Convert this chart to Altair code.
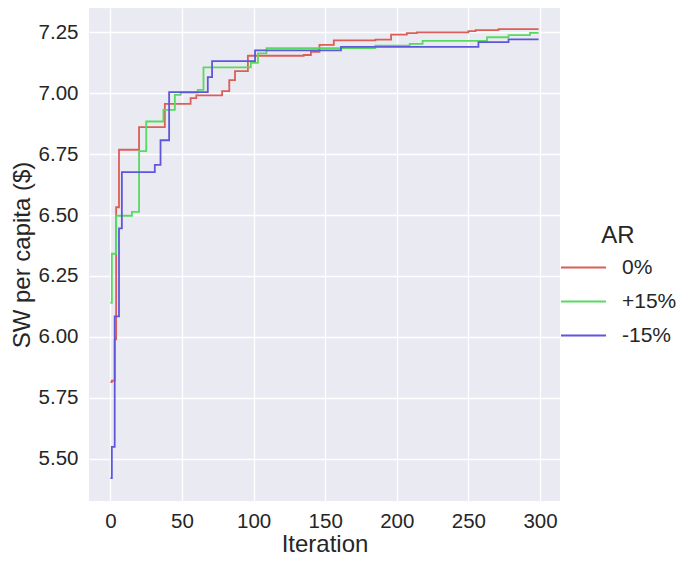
import altair as alt
import pandas as pd

# Change points (iteration, value), drawn as steps
red_iter = [0, 1, 3, 4, 6, 20, 38, 56, 60, 78, 83, 87, 96, 135, 140, 146, 156, 185, 196, 207, 214, 250, 255, 271, 299]
red_val = [5.814, 5.82, 5.99, 6.532, 6.768, 6.861, 6.956, 6.98, 6.991, 7.009, 7.054, 7.091, 7.154, 7.157, 7.17,
           7.199, 7.217, 7.22, 7.241, 7.247, 7.25, 7.255, 7.259, 7.263, 7.263]

green_iter = [0, 1, 4, 15, 20, 25, 37, 45, 49, 61, 65, 98, 103, 109, 185, 209, 218, 263, 278, 293, 299]
green_val = [6.14, 6.341, 6.497, 6.513, 6.762, 6.884, 6.932, 6.993, 7.003, 7.014, 7.106, 7.125, 7.164, 7.185,
             7.195, 7.203, 7.215, 7.23, 7.239, 7.248, 7.248]

blue_iter = [0, 1, 3, 6, 8, 31, 35, 41, 68, 71, 101, 161, 257, 278, 299]
blue_val = [5.42, 5.548, 6.084, 6.445, 6.676, 6.706, 6.807, 7.005, 7.066, 7.132, 7.176, 7.19, 7.21, 7.221, 7.221]

series_names = ["0%", "+15%", "-15%"]
series_colors = ["#db5f57", "#57db5f", "#5f57db"]

x_ticks = [0, 50, 100, 150, 200, 250, 300]
y_ticks = [5.50, 5.75, 6.00, 6.25, 6.50, 6.75, 7.00, 7.25]

rows = []
for name, xs, ys in zip(series_names, [red_iter, green_iter, blue_iter], [red_val, green_val, blue_val]):
    for i, (x, y) in enumerate(zip(xs, ys)):
        rows.append({"Iteration": x, "SW": y, "AR": name, "order": i})
df = pd.DataFrame(rows)

FONT = "Liberation Sans"
TXT = "#262626"

chart = alt.Chart(df).mark_line(interpolate="step-after", strokeWidth=1.8).encode(
    x=alt.X("Iteration:Q",
            scale=alt.Scale(domain=[-14.95, 313.95], nice=False, zero=False),
            axis=alt.Axis(values=x_ticks, title="Iteration", labelPadding=10, titlePadding=1)),
    y=alt.Y("SW:Q",
            scale=alt.Scale(domain=[5.326, 7.35], nice=False, zero=False),
            axis=alt.Axis(values=y_ticks, format=".2f", title="SW per capita ($)",
                          labelPadding=11, titlePadding=4)),
    color=alt.Color("AR:N",
                    scale=alt.Scale(domain=series_names, range=series_colors),
                    legend=alt.Legend(orient="none", legendX=471, legendY=216, padding=0,
                                      symbolType="stroke", symbolSize=2025, symbolStrokeWidth=2,
                                      labelOffset=15, rowPadding=-4.5, titlePadding=-4,
                                      titleAnchor="middle", titleFontSize=24, labelFontSize=21,
                                      titleFontWeight="normal", titleFont=FONT, labelFont=FONT,
                                      titleColor=TXT, labelColor=TXT)),
    order="order:Q",
).properties(
    width=471, height=493,
    autosize=alt.AutoSizeParams(type="none"),
    padding={"left": 81, "top": 0, "right": 130, "bottom": 56},
).configure_view(
    fill="#eaeaf2", stroke=None
).configure_axis(
    domain=False, ticks=False, tickSize=0, grid=True, gridColor="white", gridWidth=1.3,
    labelFont=FONT, labelFontSize=20.5, labelColor=TXT,
    titleFont=FONT, titleFontSize=24, titleColor=TXT, titleFontWeight="normal",
)

chart.save("out.html", embed_options={"renderer": "svg", "actions": False})
